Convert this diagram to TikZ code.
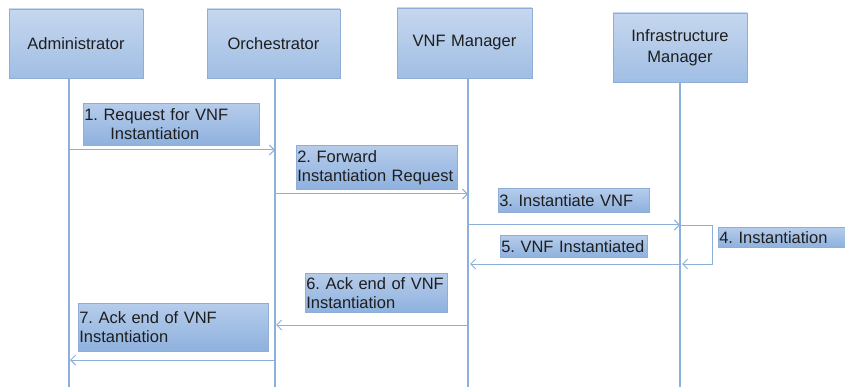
\documentclass[tikz,border=0pt]{standalone}
\usepackage{fontspec}
\setmainfont{Liberation Sans}
\usetikzlibrary{arrows.meta, positioning}
\definecolor{boxtop}{RGB}{198,215,238}
\definecolor{boxbot}{RGB}{160,190,228}
\definecolor{boxedge}{RGB}{142,174,215}
\definecolor{lbltop}{RGB}{182,204,235}
\definecolor{lblbot}{RGB}{142,177,222}
\definecolor{linecol}{RGB}{140,176,218}
\definecolor{ink}{RGB}{30,30,30}
\tikzstyle{actor} = [
  rectangle,
  minimum width=134pt,
  minimum height=69pt,
  text centered,
  text width=120pt,
  inner sep=0,
  draw=boxedge,
  line width=0.8pt,
  top color=boxtop,
  bottom color=boxbot,
  text=ink,
  font=\fontsize{16.5}{21}\selectfont
]
\tikzstyle{label} = [
  rectangle,
  anchor=north west,
  inner xsep=1pt,
  inner ysep=0,
  align=left,
  draw=boxedge,
  line width=0.5pt,
  top color=lbltop,
  bottom color=lblbot,
  text=ink,
  font=\fontsize{16.5}{19}\selectfont\frenchspacing
]
\tikzstyle{lifeline} = [
  draw=linecol,
  line width=1.2pt
]
\tikzstyle{msg} = [
  draw=linecol,
  line width=1pt,
  -{Straight Barb[length=5pt,width=10pt]}
]

\begin{document}
\begin{tikzpicture}[x=1pt, y=-1pt]
      \useasboundingbox (0,0) rectangle (845,387);

      \node [actor] (admin) at (76,43.5) {Administrator};
      \node [actor, minimum width=133pt] (orch) at (273.5,43.5) {Orchestrator};
      \node [actor, minimum width=135pt, minimum height=70pt] (vnfm) at (464.5,43) {VNF Manager};
      \node [actor] (vim) at (680,47.5) {Infrastructure Manager};

      % lifelines
      \coordinate (adminline) at (69,387);
      \coordinate (orchline) at (275,387);
      \coordinate (vnfmline) at (468,387);
      \coordinate (vimline) at (680,387);
      \draw [lifeline] (adminline |- admin.south) -- (adminline);
      \draw [lifeline] (orchline |- orch.south) -- (orchline);
      \draw [lifeline] (vnfmline |- vnfm.south) -- (vnfmline);
      \draw [lifeline] (vimline |- vim.south) -- (vimline);

      % message labels
      \node [label, text width=174pt, minimum height=42pt] (req) at (83,103)
        {1. Request for VNF\\\hspace*{26pt}Instantiation};
      \node [label, text width=159pt, minimum height=44pt] (fwd) at (296,145)
        {2. Forward\\Instantiation Request};
      \node [label, text width=149pt, minimum height=24pt] (inst) at (498,188)
        {3. Instantiate VNF};
      \node [label, text width=138pt, minimum height=20pt] (self) at (718,227)
        {4. Instantiation};
      \node [label, text width=145pt, minimum height=22pt] (done) at (500,235)
        {\mbox{5. VNF Instantiated}};
      \node [label, text width=140pt, minimum height=39pt] (ackv) at (305,273)
        {\mbox{6. Ack end of VNF}\\Instantiation};
      \node [label, text width=188pt, minimum height=48pt] (acko) at (78,303)
        {7. Ack end of VNF\\Instantiation};

      % messages
      \draw [msg] (adminline |- 0,150) -- (orchline |- 0,150);
      \draw [msg] (orchline |- 0,194) -- (vnfmline |- 0,194);
      \draw [msg] (vnfmline |- 0,225) -- (vimline |- 0,225);
      \draw [msg] (vimline |- 0,226) -- ++(32,0) |- ([xshift=2pt]vimline |- 0,264);
      \draw [msg] (vimline |- 0,264) -- ([xshift=2pt]vnfmline |- 0,264);
      \draw [msg] (vnfmline |- 0,325) -- ([xshift=1pt]orchline |- 0,325);
      \draw [msg] (orchline |- 0,360) -- ([xshift=1pt]adminline |- 0,360);

    \end{tikzpicture}
\end{document}
